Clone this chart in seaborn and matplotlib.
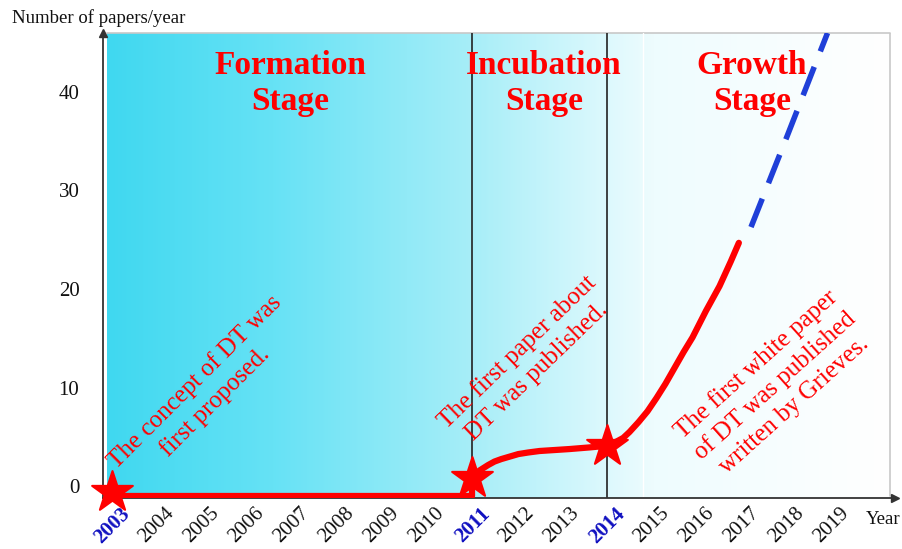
import numpy as np
import matplotlib
matplotlib.use("Agg")
import matplotlib.pyplot as plt
import matplotlib.transforms as mtransforms
from matplotlib.colors import LinearSegmentedColormap
import seaborn as sns

sns.set_theme(style="white")
plt.rcParams["font.family"] = ["Liberation Serif", "DejaVu Serif"]

# data
years = list(range(2003, 2020))
key_years = [2003, 2011, 2014]
yticks = [0, 10, 20, 30, 40]

formation_x = [2003, 2011, 2011]
formation_y = [0, 0, 1.8]
incubation_x = [2011, 2011.08, 2011.17, 2011.36, 2011.5, 2011.65, 2012.03, 2012.25,
                2012.5, 2013.17, 2013.6, 2014]
incubation_y = [1.8, 2.2, 2.6, 3.15, 3.5, 3.75, 4.26, 4.42, 4.57, 4.77, 4.93, 5.1]
growth_x = [2014, 2014.1, 2014.2, 2014.36, 2014.5, 2014.7, 2014.9, 2015.1, 2015.3,
            2015.5, 2015.7, 2015.9, 2016.2, 2016.5, 2016.75, 2016.93]
growth_y = [5.1, 5.3, 5.5, 5.9, 6.5, 7.5, 8.6, 9.95, 11.4, 13.0, 14.6, 16.1, 18.8,
            21.3, 23.8, 25.7]
forecast_x = [2017.2, 2018.0, 2018.9]
forecast_y = [27.3, 36.5, 47.0]
star_x = [2003, 2011, 2014]
star_y = [0.4, 1.8, 5.1]

stages = ["Formation\nStage", "Incubation\nStage", "Growth\nStage"]
notes = ["The concept of DT was\nfirst proposed.",
         "The first paper about\nDT was published.",
         "The first white paper\nof DT was published\nwritten by Grieves."]

RED = "#FF0000"
BLUE = "#1F3FD8"

fig = plt.figure(figsize=(9.03, 5.49), dpi=100)
ax = fig.add_axes([103 / 903, 51 / 549, 792 / 903, 465 / 549])
ax.set_xlim(2002.8, 2020.4)
ax.set_ylim(-0.2, 47.0)

# background gradient
cmap = LinearSegmentedColormap.from_list("bg", [
    (0.0, "#40D8F0"), (0.21, "#66E2F5"), (0.47, "#A8EEF8"),
    (0.64, "#DDF9FD"), (0.70, "#EEFCFE"), (1.0, "#FFFFFF")])
grad = np.linspace(0, 1, 400).reshape(1, -1)
ax.imshow(grad, cmap=cmap, aspect="auto", extent=[2002.89, 2020.29, -0.2, 47.0],
          interpolation="bicubic", zorder=0)
ax.plot([2020.29, 2020.29], [0, 47.0], color="#C8C8C8", lw=1.2, zorder=1)
ax.plot([2002.89, 2020.29], [47.0, 47.0], color="#C8C8C8", lw=1.2, zorder=1, clip_on=False)
ax.axvline(2014.8, color="white", lw=1, zorder=1)

# stage boundaries
for yr in [2011, 2014]:
    ax.axvline(yr, color="#222222", lw=1.2, zorder=2)

# curves
line_kw = dict(estimator=None, sort=False, ax=ax, zorder=3)
sns.lineplot(x=formation_x, y=formation_y, color=RED, lw=4.5, **line_kw)
sns.lineplot(x=incubation_x, y=incubation_y, color=RED, lw=4.5, **line_kw)
sns.lineplot(x=growth_x, y=growth_y, color=RED, lw=4.5, **line_kw)
sns.lineplot(x=forecast_x, y=forecast_y, color=BLUE, lw=4, linestyle=(0, (5.5, 3)), **line_kw)
for ln in ax.get_lines():
    ln.set_solid_joinstyle("round")
stars = sns.scatterplot(x=star_x, y=star_y, marker="*", s=950, color=RED, edgecolor=RED,
                        linewidth=1.5, ax=ax, zorder=4)
ax.collections[-1].set_clip_on(False)

# stage titles
for label, xc in zip(stages, [2006.96, 2012.6, 2017.22]):
    ax.text(xc, 41.9, label, color=RED, fontsize=24, fontweight="bold", ha="center",
            va="center", linespacing=1.2, zorder=5)

# annotations
for note, xc, yc, rot in zip(notes, [2005.07, 2012.22, 2017.73], [10.6, 13.6, 11.3], [45, 44, 42]):
    ax.text(xc, yc, note, color=RED, fontsize=18, rotation=rot, ha="center", va="center",
            multialignment="center", linespacing=1.3, rotation_mode="anchor", zorder=5)

# axes styling
sns.despine(ax=ax)
for side in ["left", "bottom"]:
    ax.spines[side].set_color("#333333")
    ax.spines[side].set_linewidth(1.3)
ax.plot(1, -0.2, ">", color="#333333", ms=6, transform=ax.get_yaxis_transform(), clip_on=False)
ax.plot(0, 1, "^", color="#333333", ms=6, transform=ax.transAxes, clip_on=False)
ax.grid(False)

ax.set_xticks(years)
ax.set_xticklabels([str(y) for y in years])
ax.tick_params(axis="x", length=0, pad=0)
xoff = mtransforms.ScaledTranslation(8 / 100, -6 / 100, fig.dpi_scale_trans)
for lab, yr in zip(ax.get_xticklabels(), years):
    lab.set_rotation(45)
    lab.set_ha("right")
    lab.set_va("top")
    lab.set_rotation_mode("anchor")
    lab.set_fontsize(15)
    lab.set_transform(lab.get_transform() + xoff)
    if yr in key_years:
        lab.set_color("#1010C0")
        lab.set_fontweight("bold")
    else:
        lab.set_color("#111111")

ax.set_yticks(yticks)
ax.set_yticklabels([str(v) for v in yticks])
ax.tick_params(axis="y", length=0, pad=17, labelsize=15, labelcolor="#111111")
yoff = mtransforms.ScaledTranslation(0, 10 / 100, fig.dpi_scale_trans)
for lab in ax.get_yticklabels():
    lab.set_transform(lab.get_transform() + yoff)

fig.text(12 / 903, 1 - 18 / 549, "Number of papers/year", fontsize=13.5, ha="left", va="center",
         color="#111111")
fig.text(866 / 903, 1 - 520 / 549, "Year", fontsize=13.5, ha="left", va="center", color="#111111")

fig.savefig("out.png", dpi=100)
